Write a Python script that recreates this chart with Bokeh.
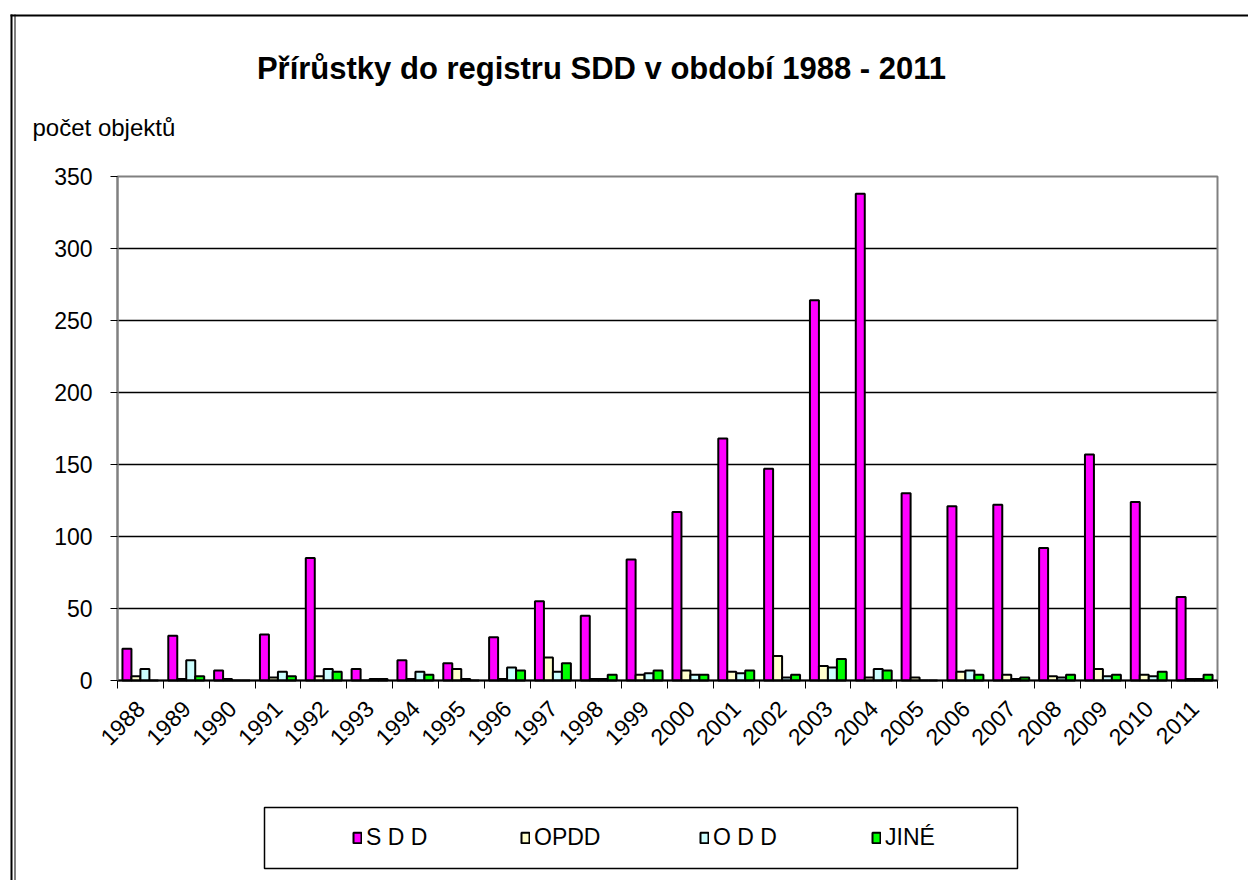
import math
import numpy as np
from bokeh.plotting import figure
from bokeh.models import (ColumnDataSource, FixedTicker, Label, BoxAnnotation,
                          Legend, LegendItem, Range1d)
from bokeh.transform import dodge
from bokeh.embed import file_html
from bokeh.resources import INLINE

years = [str(y) for y in range(1988, 2012)]
sdd = [22, 31, 7, 32, 85, 8, 14, 12, 30, 55, 45, 84, 117, 168, 147, 264, 338, 130, 121, 122, 92, 157, 124, 58]
opdd = [3, 1, 1, 2, 3, 0, 1, 8, 1, 16, 1, 4, 7, 6, 17, 10, 2, 2, 6, 4, 3, 8, 4, 1]
odd = [8, 14, 0, 6, 8, 1, 6, 1, 9, 6, 1, 5, 4, 5, 2, 9, 8, 0, 7, 1, 2, 3, 3, 1]
jine = [0, 3, 0, 3, 6, 1, 4, 0, 7, 12, 4, 7, 4, 7, 4, 15, 7, 0, 4, 2, 4, 4, 6, 4]
series_names = ["S D D", "OPDD", "O D D", "JINÉ"]
series_colors = ["#FF00FF", "#FFFFCC", "#CCFFFF", "#00FF00"]
y_ticks = [0, 50, 100, 150, 200, 250, 300, 350]
y_max = 350

FONT = "Liberation Sans"

# canvas and plot-area placement (pixels)
W, H = 1248, 880
PX0, PX1, PY0, PY1 = 117, 1217, 176, 680
n = len(years)
ux = (PX1 - PX0) / n
uy = (PY1 - PY0) / y_max


def dx(px):
    return (px - PX0) / ux


def dy(py):
    return (PY1 - py) / uy


centers = np.arange(n) + 0.5
source = ColumnDataSource(dict(x=centers, year=years, sdd=sdd, opdd=opdd, odd=odd, jine=jine))

p = figure(width=W, height=H, min_border=0,
           x_range=Range1d(dx(0), dx(W)), y_range=Range1d(dy(H), dy(0)),
           output_backend="svg", toolbar_location=None,
           background_fill_color="white", border_fill_color="white")
p.title.visible = False
p.outline_line_color = None

# plot area outline (gray)
p.add_layout(BoxAnnotation(left=0, right=n, bottom=0, top=y_max, fill_color=None,
                           line_color="#808080", line_alpha=1, line_width=2,
                           line_dash="solid", level="underlay"))

bw = 0.196
keys = ["sdd", "opdd", "odd", "jine"]
offsets = [-1.5 * bw, -0.5 * bw, 0.5 * bw, 1.5 * bw]
renderers = []
for k, off, col in zip(keys, offsets, series_colors):
    r = p.vbar(x=dodge("x", off, range=p.x_range), top=k, width=bw, bottom=0,
               source=source, fill_color=col, line_color="black", line_width=2)
    renderers.append(r)

# grid
p.xgrid.visible = False
g = p.ygrid[0]
g.ticker = FixedTicker(ticks=y_ticks[1:-1])
g.grid_line_color = "black"
g.grid_line_width = 1.5
if "cross_bounds" in g.properties():
    g.cross_bounds = (0, n)
else:
    g.visible = False
    p.segment(x0=0, x1=n, y0=y_ticks[1:-1], y1=y_ticks[1:-1],
              line_color="black", line_width=1.5, level="underlay")

ya = p.yaxis[0]
ya.fixed_location = 0
ya.bounds = (0, y_max)
ya.ticker = FixedTicker(ticks=y_ticks)
ya.axis_line_color = "#808080"
ya.axis_line_width = 2
ya.major_tick_out = 7
ya.major_tick_in = 0
ya.minor_tick_out = 0
ya.minor_tick_in = 0
ya.major_tick_line_color = "black"
ya.major_label_text_font = FONT
ya.major_label_text_font_size = "23px"
ya.major_label_text_color = "black"
ya.major_label_standoff = 18

xa = p.xaxis[0]
xa.fixed_location = 0
xa.bounds = (0, n)
xa.ticker = FixedTicker(ticks=list(centers), minor_ticks=list(range(n + 1)))
xa.major_label_overrides = {float(c): y for c, y in zip(centers, years)}
xa.major_label_orientation = math.pi / 4
xa.major_tick_out = 0
xa.major_tick_in = 0
xa.minor_tick_out = 8
xa.minor_tick_in = 0
xa.minor_tick_line_color = "black"
xa.minor_tick_line_width = 1
xa.axis_line_color = "black"
xa.axis_line_width = 2
xa.major_label_text_font = FONT
xa.major_label_text_font_size = "23px"
xa.major_label_text_color = "black"
xa.major_label_standoff = 16

# texts
p.add_layout(Label(x=dx(601), y=dy(68), text="Přírůstky do registru SDD v období 1988 - 2011",
                   text_align="center", text_baseline="alphabetic", text_font=FONT,
                   text_font_size="31px", text_font_style="bold", text_color="black"))
p.add_layout(Label(x=dx(32), y=dy(127), text="počet objektů",
                   text_align="left", text_baseline="alphabetic", text_font=FONT,
                   text_font_size="24px", text_color="black"))


def rect(l, t, r, b, fill=None, line=None, lw=1):
    p.add_layout(BoxAnnotation(left=dx(l), right=dx(r), top=dy(t), bottom=dy(b),
                               fill_color=fill, fill_alpha=1 if fill else 0,
                               line_color=line, line_alpha=1 if line else 0,
                               line_width=lw, line_dash="solid"))


# outer border lines
rect(10, 14, 12, H, fill="black")
rect(14, 14, 15, H, fill="black")
rect(10, 14, W, 16, fill="black")

# legend frame and items
rect(264, 807, 1017, 868, line="black", lw=1.5)
legend_x = [352, 520, 699, 871]
item_h = 26
for name, r, lx in zip(series_names, renderers, legend_x):
    lg = Legend(items=[LegendItem(label=name, renderers=[r])],
                location=(lx, H - (838 + item_h // 2)), orientation="horizontal",
                padding=0, margin=0, spacing=0,
                glyph_width=10, glyph_height=13, label_standoff=4,
                label_height=item_h, label_text_font=FONT, label_text_font_size="23px",
                label_text_color="black", border_line_color=None,
                background_fill_alpha=0)
    p.add_layout(lg)

open("out.html", "w").write(file_html(p, INLINE))
